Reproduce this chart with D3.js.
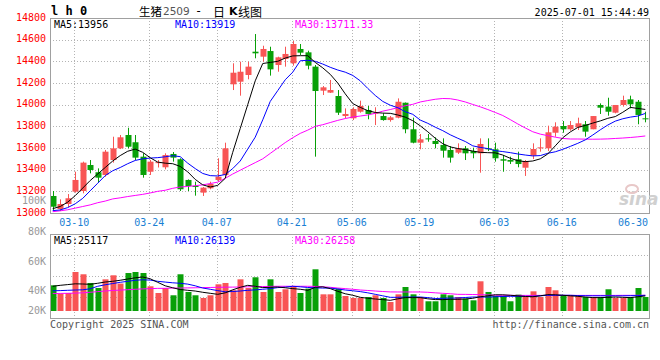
<!DOCTYPE html>
<html><head><meta charset="utf-8">
<script src="https://cdn.jsdelivr.net/npm/d3@7"></script>
<style>body{margin:0;background:#fff}svg{display:block}</style>
</head><body><svg id="c" width="660" height="360"></svg>
<script>
const dates = ["03-05","03-06","03-07","03-10","03-11","03-12","03-13","03-14","03-17","03-18","03-19","03-20","03-21","03-24","03-25","03-26","03-27","03-28","03-31","04-01","04-02","04-03","04-07","04-08","04-09","04-10","04-11","04-14","04-15","04-16","04-17","04-18","04-21","04-22","04-23","04-24","04-25","04-28","04-29","04-30","05-06","05-07","05-08","05-09","05-12","05-13","05-14","05-15","05-16","05-19","05-20","05-21","05-22","05-23","05-26","05-27","05-28","05-29","05-30","06-03","06-04","06-05","06-06","06-09","06-10","06-11","06-12","06-13","06-16","06-17","06-18","06-19","06-20","06-23","06-24","06-25","06-26","06-27","06-30","07-01"];
const open  = [13157,13037,13083,13197,13203,13443,13376,13351,13489,13597,13720,13653,13520,13381,13460,13422,13545,13496,13305,13249,13188,13228,13305,13351,14188,14212,14274,14489,14443,14495,14366,14422,14382,14514,14483,14351,14129,14111,14080,13895,13874,13935,13951,13920,13895,13858,13880,14018,13773,13649,13689,13665,13628,13582,13557,13597,13572,13551,13597,13588,13496,13489,13496,13418,13529,13600,13597,13741,13803,13773,13791,13819,13773,13997,13982,13926,13997,14049,14027,13874];
const high  = [13203,13126,13175,13381,13474,13489,13412,13582,13704,13720,13787,13720,13551,13489,13489,13551,13563,13505,13310,13289,13240,13289,13505,13649,14382,14397,14397,14652,14544,14535,14443,14535,14588,14560,14498,14366,14172,14228,14135,13966,13976,14037,13988,13976,13920,13895,14058,14020,13880,13729,13729,13699,13689,13618,13643,13618,13603,13689,13689,13649,13535,13520,13566,13489,13643,13689,13806,13837,13849,13849,13880,13849,13895,14012,14064,13997,14083,14083,14043,13935];
const low   = [13028,13018,13053,13188,13182,13366,13280,13335,13465,13590,13597,13489,13326,13351,13420,13403,13474,13203,13203,13160,13157,13219,13289,13335,14135,14083,14234,14428,14397,14268,14304,14351,14360,14458,14326,13520,14089,14108,13905,13874,13858,13926,13865,13812,13852,13843,13874,13736,13643,13588,13658,13597,13511,13465,13545,13489,13505,13372,13572,13474,13381,13452,13422,13342,13498,13566,13572,13704,13741,13760,13766,13704,13773,13914,13898,13920,13982,13966,13819,13837];
const close = [13058,13083,13136,13305,13465,13397,13326,13566,13597,13699,13612,13511,13351,13474,13470,13535,13511,13219,13249,13243,13234,13268,13335,13597,14295,14304,14351,14474,14514,14326,14437,14468,14560,14480,14360,14126,14160,14135,13926,13914,13960,13988,13914,13926,13858,13883,14027,13773,13649,13680,13680,13637,13575,13511,13597,13551,13551,13637,13588,13505,13483,13474,13452,13480,13591,13606,13745,13797,13773,13812,13828,13751,13895,13972,13935,13997,14043,14003,13905,13865];
const ma5  = [13040,13060,13100,13160,13230,13300,13360,13420,13480,13530,13570,13590,13560,13510,13470,13460,13455,13430,13380,13310,13260,13240,13255,13320,13560,13780,14000,14220,14380,14390,14400,14430,14450,14452,14452,14390,14340,14280,14200,14100,14010,13975,13945,13928,13922,13920,13905,13885,13852,13805,13750,13690,13640,13610,13595,13585,13572,13560,13557,13555,13535,13505,13483,13474,13480,13500,13545,13620,13695,13748,13790,13808,13830,13850,13874,13890,13930,13975,13965,13956];
const ma10 = [13022,13028,13050,13085,13135,13205,13275,13345,13390,13420,13455,13485,13500,13507,13511,13519,13529,13520,13460,13410,13365,13345,13342,13355,13410,13480,13590,13700,13860,14030,14130,14230,14300,14405,14410,14400,14375,14345,14320,14300,14270,14220,14150,14085,14030,13995,13972,13935,13911,13858,13828,13792,13760,13722,13690,13660,13620,13605,13595,13575,13567,13557,13545,13535,13527,13530,13551,13565,13588,13615,13643,13675,13720,13768,13812,13848,13870,13885,13895,13919];
const ma30 = [13012,13020,13030,13045,13060,13075,13095,13110,13130,13140,13152,13162,13172,13185,13200,13210,13228,13240,13245,13252,13260,13272,13285,13320,13360,13395,13430,13465,13500,13550,13600,13650,13695,13735,13765,13800,13815,13835,13855,13872,13886,13895,13905,13920,13940,13955,13972,13990,14003,14025,14038,14050,14057,14055,14043,14025,14002,13980,13955,13928,13900,13862,13822,13785,13750,13728,13714,13700,13688,13683,13683,13682,13681,13682,13684,13688,13692,13697,13703,13711];
// volume, in thousands of lots
const volume = [42.8,29.0,30.0,65.0,61.2,46.7,38.3,52.8,59.5,45.7,63.3,65.0,63.3,41.2,30.0,38.3,26.2,61.2,31.7,26.2,21.7,26.2,44.5,46.7,34.5,52.8,38.3,56.2,31.7,52.8,31.7,36.2,41.2,30.0,37.3,69.5,27.8,27.8,37.3,25.0,21.7,21.7,23.3,26.2,21.7,15.0,27.8,40.0,27.8,23.3,16.2,16.2,27.8,26.2,23.3,20.7,17.8,49.5,31.7,25.0,25.0,16.2,27.3,23.3,32.8,23.3,40.0,34.5,26.2,25.0,25.0,23.3,23.3,23.3,36.2,21.7,21.7,23.3,38.3,23.3];
const volMa5  = [41.2,42.8,44.0,45.3,45.0,44.5,46.2,48.3,49.5,51.2,53.3,55.3,56.7,53.7,47.8,42.0,38.7,35.8,34.5,33.3,31.2,29.5,27.8,30.3,35.3,39.5,42.8,41.2,39.0,39.5,40.0,38.7,37.3,36.2,34.5,39.5,40.3,37.3,32.8,28.7,26.2,22.8,21.2,20.0,19.0,17.8,20.3,22.3,22.3,22.3,20.3,19.0,19.0,19.5,19.5,20.0,21.2,23.7,25.3,27.0,27.0,26.2,25.3,24.2,23.7,25.3,27.3,27.0,26.2,25.3,24.5,23.3,22.3,22.3,22.8,23.3,22.8,22.3,23.7,25.1];
const volMa10 = [33.7,34.0,34.5,35.0,35.3,37.0,41.2,43.7,45.8,47.8,49.5,51.2,52.0,51.5,49.5,48.2,47.0,46.2,44.8,42.0,38.3,36.2,34.0,32.0,32.5,33.3,34.5,35.2,36.2,37.3,39.0,39.8,41.2,40.3,39.2,38.7,38.2,38.2,36.7,35.0,33.7,32.3,30.3,27.8,25.3,22.8,22.8,23.3,23.3,23.3,22.3,20.8,21.2,21.5,21.7,22.5,23.3,23.3,23.3,23.7,24.2,24.5,24.5,24.5,24.5,25.3,26.2,26.2,26.2,26.2,25.7,25.4,25.3,25.3,25.3,25.2,25.3,25.5,25.6,26.1];
const volMa30 = [29.0,29.3,29.5,29.8,30.3,31.2,32.3,33.3,34.2,34.8,35.5,36.2,36.8,37.3,37.7,37.8,38.2,38.3,38.5,38.7,39.0,39.2,39.5,39.7,39.8,40.0,40.3,40.7,40.8,41.0,41.2,41.2,41.2,41.2,41.2,41.0,40.3,39.5,38.3,37.3,36.2,35.0,34.2,33.3,32.5,31.8,31.7,31.7,31.7,31.7,31.2,30.3,29.5,28.7,27.8,27.7,27.5,27.2,26.8,26.3,26.2,26.1,26.0,26.0,26.0,26.0,26.0,26.0,26.0,26.0,26.0,26.0,26.0,26.0,26.0,26.0,26.1,26.1,26.2,26.26];
const priceTicks = [13000,13200,13400,13600,13800,14000,14200,14400,14600,14800];
const volTicks = [20,40,60,80,100];
const volTickLabels = ["20K","40K","60K","80K","100K"];
const dateTicks = ["03-10","03-24","04-07","04-21","05-06","05-19","06-03","06-16","06-30"];
const priceLegend = ["MA5:13956","MA10:13919","MA30:13711.33"];
const volLegend = ["MA5:25117","MA10:26139","MA30:26258"];
const titleCode = "l h 0";
const titleParts = ["生猪", "2509", "-", "日", "K", "线图"];
const stamp = "2025-07-01 15:44:49";

const RED = "#f85555", GREEN = "#08a008", GRID = "#b4b4b4", BORDER = "#a0a0a0";
const MONO = "'DejaVu Sans Mono', monospace";
const CJK = "'Noto Sans CJK SC', sans-serif";
const svg = d3.select("#c");
const L = 50, R = 649, pTop = 18, pBot = 213, vTop = 234, vBot = 318;
const n = dates.length;
const x = d3.scaleLinear().domain([0, n - 1]).range([52.7, 645.3]);
const y = d3.scaleLinear().domain([13000, 14800]).range([pBot, pTop]);
const vy = d3.scaleLinear().domain([0, 100]).range([311, 251]);
const vLab = d3.scaleLinear().domain(volTicks).range([310, 290, 261, 231, 200.5]);
const tickIdx = dateTicks.map(d => dates.indexOf(d));
const px = v => Math.round(v) + 0.5;

// grids
const g = svg.append("g");
priceTicks.filter(v => v > 13000 && v < 14800).forEach(v => {
  g.append("line").attr("x1", L).attr("x2", R).attr("y1", px(y(v))).attr("y2", px(y(v)))
    .attr("stroke", GRID).attr("stroke-dasharray", "1,2");
});
d3.range(1, 4).forEach(k => {
  const yy = px(vTop + k * (vBot - vTop) / 4);
  g.append("line").attr("x1", L).attr("x2", R).attr("y1", yy).attr("y2", yy)
    .attr("stroke", GRID).attr("stroke-dasharray", "1,2");
});
tickIdx.slice(0, -1).forEach(i => {
  [[pTop, pBot], [vTop, vBot]].forEach(([a, b]) => {
    g.append("line").attr("x1", px(x(i) - 1)).attr("x2", px(x(i) - 1)).attr("y1", a).attr("y2", b)
      .attr("stroke", GRID).attr("stroke-dasharray", "1,2");
  });
});

// candles
const cg = svg.append("g");
d3.range(n).forEach(i => {
  const up = close[i] >= open[i];
  const col = up ? RED : GREEN;
  const cx = Math.round(x(i));
  cg.append("line").attr("x1", cx + 0.5).attr("x2", cx + 0.5).attr("y1", y(high[i])).attr("y2", y(low[i]))
    .attr("stroke", col);
  const t = y(Math.max(open[i], close[i])), b = y(Math.min(open[i], close[i]));
  cg.append("rect").attr("x", cx - 2.5).attr("width", 6).attr("y", t).attr("height", Math.max(1, b - t))
    .attr("fill", col);
});

// MA lines
const line = arr => d3.line().x((d, i) => x(i)).y(d => y(d))(arr);
[[ma30, "#ff00ff"], [ma10, "#0000ff"], [ma5, "#000000"]].forEach(([a, c]) => {
  svg.append("path").attr("d", line(a)).attr("fill", "none").attr("stroke", c).attr("stroke-width", 1);
});

// volume
const vg = svg.append("g");
d3.range(n).forEach(i => {
  const col = close[i] >= open[i] ? RED : GREEN;
  const cx = Math.round(x(i));
  vg.append("rect").attr("x", cx - 2.5).attr("width", 6).attr("y", vy(volume[i]))
    .attr("height", vy(0) - vy(volume[i])).attr("fill", col);
});
const vline = arr => d3.line().x((d, i) => x(i)).y(d => vy(d))(arr);
[[volMa30, "#ff00ff"], [volMa10, "#0000ff"], [volMa5, "#000000"]].forEach(([a, c]) => {
  svg.append("path").attr("d", vline(a)).attr("fill", "none").attr("stroke", c).attr("stroke-width", 1);
});

// borders
[[pTop, pBot], [vTop, vBot]].forEach(([a, b]) => {
  svg.append("rect").attr("x", L + 0.5).attr("y", a + 0.5).attr("width", R - L).attr("height", b - a)
    .attr("fill", "none").attr("stroke", BORDER);
});

// axes labels
const txt = (s, xx, yy, opts = {}) => svg.append("text").text(s).attr("x", xx).attr("y", yy)
  .attr("font-family", opts.font || MONO).attr("font-size", opts.size || 10)
  .attr("fill", opts.fill || "#000").attr("text-anchor", opts.anchor || "start")
  .attr("dominant-baseline", "central").attr("font-weight", opts.weight || "normal");
priceTicks.forEach(v => txt(String(v), 46, y(v) - 1, {fill: "#ff0000", anchor: "end"}));
volTicks.forEach((v, k) => txt(volTickLabels[k], 46, vLab(v), {fill: "#999", anchor: "end"}));
tickIdx.forEach(i => {
  const cx = Math.min(x(i) - 1, R - 16);
  txt(dates[i], cx, 222, {fill: "#1a7fd4", anchor: "middle"});
});

// legends
const legX = [54, 175, 295], legC = ["#000", "#0000ff", "#ff00ff"];
priceLegend.forEach((s, k) => txt(s, legX[k], 24, {fill: legC[k]}));
volLegend.forEach((s, k) => txt(s, legX[k], 240, {fill: legC[k]}));

// title
txt(titleCode, 51, 11, {weight: "bold", size: 12});
const tX = [139, 163, 195, 213, 229, 238];
const tStyle = [
  {font: CJK, size: 11.5},
  {font: "'DejaVu Sans', sans-serif", size: 10.5, fill: "#555"},
  {font: MONO, size: 12},
  {font: CJK, size: 12},
  {font: "'DejaVu Sans', sans-serif", size: 11, weight: "bold"},
  {font: CJK, size: 12}
];
titleParts.forEach((s, k) => txt(s, tX[k], 11, tStyle[k]));
txt(stamp, 649, 12, {anchor: "end"});

// footer
txt("Copyright 2025 SINA.COM", 50, 324, {fill: "#555"});
txt("http://finance.sina.com.cn", 649, 324, {fill: "#555", anchor: "end"});

// watermark
svg.append("text").text("sina").attr("x", 619).attr("y", 205).attr("font-family", "'DejaVu Sans', sans-serif")
  .attr("font-style", "italic").attr("font-weight", "bold").attr("font-size", 17).attr("fill", "#d0d0d0");
svg.append("ellipse").attr("cx", 632).attr("cy", 189).attr("rx", 6).attr("ry", 4)
  .attr("fill", "none").attr("stroke", "#e8c8c8").attr("stroke-width", 2);
</script></body></html>
